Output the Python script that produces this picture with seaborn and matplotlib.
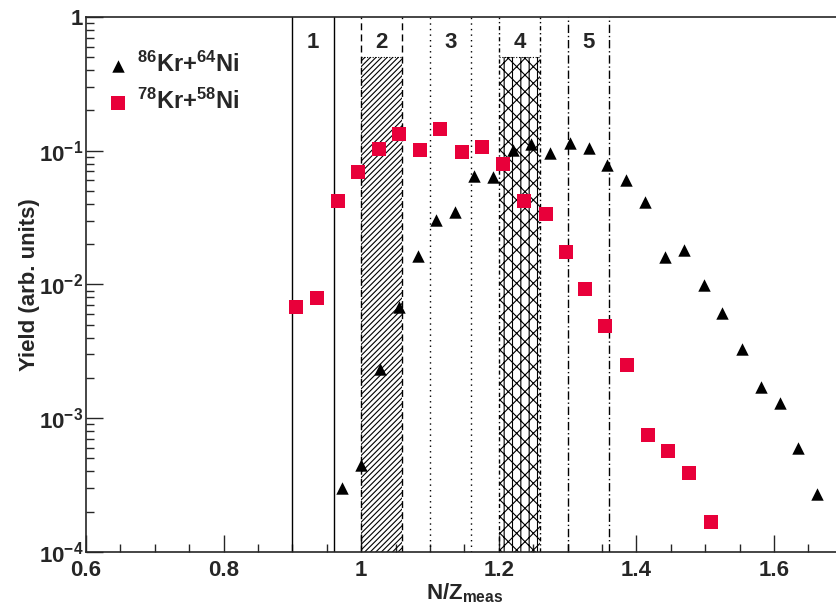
import matplotlib
matplotlib.use("Agg")
import matplotlib.pyplot as plt
import matplotlib.ticker as mticker
import numpy as np
import pandas as pd
import seaborn as sns

# =========================================================
# DATA
# =========================================================
kr86_x = [0.972, 1.000, 1.028, 1.055, 1.082, 1.109, 1.137, 1.164, 1.192,
          1.221, 1.247, 1.275, 1.303, 1.331, 1.358, 1.385, 1.413, 1.442,
          1.470, 1.498, 1.524, 1.553, 1.581, 1.609, 1.635, 1.663]
kr86_y = [3.0e-4, 4.5e-4, 2.34e-3, 6.8e-3, 0.0163, 0.0303, 0.0348, 0.0648,
          0.0637, 0.101, 0.112, 0.096, 0.114, 0.105, 0.078, 0.0604, 0.0414,
          0.0161, 0.0181, 0.0099, 6.1e-3, 3.3e-3, 1.71e-3, 1.3e-3, 6.0e-4,
          2.7e-4]

kr78_x = [0.905, 0.935, 0.966, 0.995, 1.026, 1.055, 1.086, 1.115, 1.146,
          1.175, 1.206, 1.237, 1.268, 1.297, 1.326, 1.355, 1.386, 1.417,
          1.446, 1.477, 1.508]
kr78_y = [6.8e-3, 7.9e-3, 0.042, 0.0694, 0.103, 0.133, 0.101, 0.146, 0.098,
          0.107, 0.0796, 0.042, 0.0337, 0.0175, 9.3e-3, 4.9e-3, 2.5e-3,
          7.5e-4, 5.7e-4, 3.9e-4, 1.68e-4]

region_labels = ["1", "2", "3", "4", "5"]
region_lo = [0.90, 1.00, 1.10, 1.20, 1.30]
region_hi = [0.96, 1.06, 1.16, 1.26, 1.36]
region_ls = ["-", (0, (5, 3)), (0, (1, 3)), (0, (3, 2, 1, 2)), (0, (6, 2, 1, 2))]
region_hatch = [None, "//////", None, "xx||", None]
hatch_top = 0.5

# =========================================================
# STYLE
# =========================================================
sns.set_style("ticks")
plt.rcParams["font.family"] = ["Liberation Sans", "DejaVu Sans"]
plt.rcParams["font.weight"] = "bold"
plt.rcParams["mathtext.fontset"] = "custom"
plt.rcParams["mathtext.rm"] = "Liberation Sans:bold"
plt.rcParams["mathtext.bf"] = "Liberation Sans:bold"
plt.rcParams["mathtext.it"] = "Liberation Sans:bold"
plt.rcParams["mathtext.default"] = "bf"
plt.rcParams["hatch.linewidth"] = 0.8

fig = plt.figure(figsize=(8.36, 6.11), dpi=100)
ax = fig.add_axes([0.103, 0.0966, 0.905, 0.8756])

# =========================================================
# REGIONS
# =========================================================
for lab, lo, hi, ls, h in zip(region_labels, region_lo, region_hi,
                               region_ls, region_hatch):
    if h is not None:
        ax.fill_between([lo, hi], 1e-4, hatch_top, facecolor="none",
                        edgecolor="black", hatch=h, linewidth=0, zorder=1)
        ax.plot([lo, hi], [hatch_top, hatch_top], color="black", lw=0.8,
                ls=(0, (1, 1.5)), zorder=1)
    for xv in (lo, hi):
        ax.axvline(xv, color="black", lw=1.0, ls=ls, zorder=2)
    ax.text((lo + hi) / 2, 0.65, lab, ha="center", va="center",
            fontsize=16, fontweight="bold")

# =========================================================
# POINTS
# =========================================================
df86 = pd.DataFrame({"x": kr86_x, "y": kr86_y})
df78 = pd.DataFrame({"x": kr78_x, "y": kr78_y})

sns.scatterplot(data=df86, x="x", y="y", marker="^", color="black",
                s=80, edgecolor="black", linewidth=0, ax=ax, zorder=3,
                label=r"$^{86}$Kr+$^{64}$Ni")
sns.scatterplot(data=df78, x="x", y="y", marker="s", color="#e8003a",
                s=100, edgecolor="#e8003a", linewidth=0, ax=ax, zorder=3,
                label=r"$^{78}$Kr+$^{58}$Ni")

# =========================================================
# AXES
# =========================================================
ax.set_yscale("log")
ax.set_xlim(0.6, 1.7)
ax.set_ylim(1e-4, 1)

ax.xaxis.set_major_locator(mticker.MultipleLocator(0.2))
ax.xaxis.set_minor_locator(mticker.MultipleLocator(0.05))
ax.xaxis.set_major_formatter(mticker.FuncFormatter(lambda v, p: f"{v:g}"))


def yfmt(v, p):
    k = int(round(np.log10(v)))
    if k == 0:
        return "1"
    return r"$10^{%d}$" % k


ax.yaxis.set_major_locator(mticker.LogLocator(base=10, numticks=10))
ax.yaxis.set_minor_locator(mticker.LogLocator(base=10, subs=np.arange(2, 10),
                                              numticks=10))
ax.yaxis.set_major_formatter(mticker.FuncFormatter(yfmt))
ax.yaxis.set_minor_formatter(mticker.NullFormatter())

ax.tick_params(axis="both", which="major", direction="in", length=12,
               width=1, labelsize=16, pad=6)
ax.tick_params(axis="both", which="minor", direction="in", length=6,
               width=1)
ax.tick_params(axis="y", which="major", pad=2)
for lab in ax.get_xticklabels() + ax.get_yticklabels():
    lab.set_fontweight("bold")

for sp in ax.spines.values():
    sp.set_linewidth(1.2)
ax.spines["right"].set_visible(False)

ax.set_xlabel(r"N/Z$_{\rm meas}$", fontsize=16, fontweight="bold",
              labelpad=0)
ax.set_ylabel("Yield (arb. units)", fontsize=16, fontweight="bold",
              labelpad=-1)

leg = ax.legend(loc="upper left", bbox_to_anchor=(-0.005, 0.975),
                frameon=False, fontsize=17, handletextpad=0.2,
                handlelength=1.2, labelspacing=0.5, borderaxespad=0.5,
                markerscale=1.0)
for t in leg.get_texts():
    t.set_fontweight("bold")

fig.savefig("out.png", dpi=100)
